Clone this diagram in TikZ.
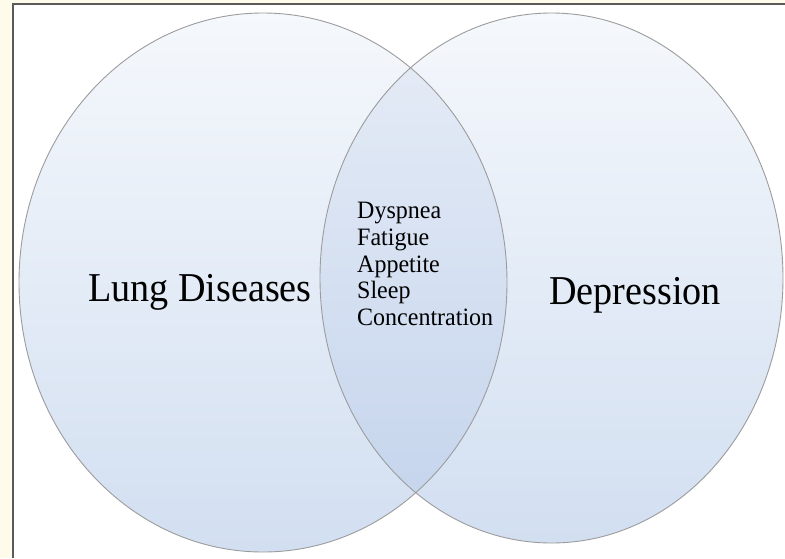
\documentclass[tikz,border=0pt]{standalone}
\usepackage{fontspec}
\setmainfont{Liberation Serif}
\usetikzlibrary{positioning}
\definecolor{pagecream}{HTML}{FFFBEA}
\definecolor{framegray}{HTML}{5A5A5A}
\definecolor{vennedge}{HTML}{9C9C9C}
\definecolor{venntop}{HTML}{F5F8FC}
\definecolor{vennbot}{HTML}{D2DFF1}
\definecolor{lenstop}{HTML}{E7EDF7}
\definecolor{lensbot}{HTML}{C3D3EC}
\tikzset{
  lungshape/.style={x radius=244pt, y radius=269.5pt},
  deprshape/.style={x radius=231.5pt, y radius=265pt},
  bigtitle/.style={font=\fontsize{41}{43}\selectfont, xscale=0.93, inner sep=0pt}
}

\begin{document}
\begin{tikzpicture}[x=1pt,y=-1pt]
\useasboundingbox (0,0) rectangle (785,558);
\fill[pagecream] (0,0) rectangle (785,558);
\fill[white] (13,4) rectangle (785,558);
\draw[framegray, line width=1.6pt] (13,558) -- (13,4) -- (785,4);
\coordinate (lungc) at (263,282.5);
\coordinate (deprc) at (551.5,278);
% the two sets
\shade[top color=venntop, bottom color=vennbot] (lungc) ellipse [lungshape];
\shade[top color=venntop, bottom color=vennbot] (deprc) ellipse [deprshape];
% overlap is darker
\begin{scope}
  \clip (lungc) ellipse [lungshape];
  \shade[top color=lenstop, bottom color=lensbot] (deprc) ellipse [deprshape];
\end{scope}
\draw[vennedge, line width=0.9pt] (lungc) ellipse [lungshape];
\draw[vennedge, line width=0.9pt] (deprc) ellipse [deprshape];
\node[bigtitle] (lung) at (200,292) {Lung Diseases};
\node[bigtitle] (depr) at (635,295) {Depression};
\node[anchor=west, align=left, inner sep=0pt, xscale=0.96, font=\fontsize{25}{26.7}\selectfont] (shared) at (357,264) {Dyspnea\\ Fatigue\\ Appetite\\ Sleep\\ Concentration};
\end{tikzpicture}
\end{document}
